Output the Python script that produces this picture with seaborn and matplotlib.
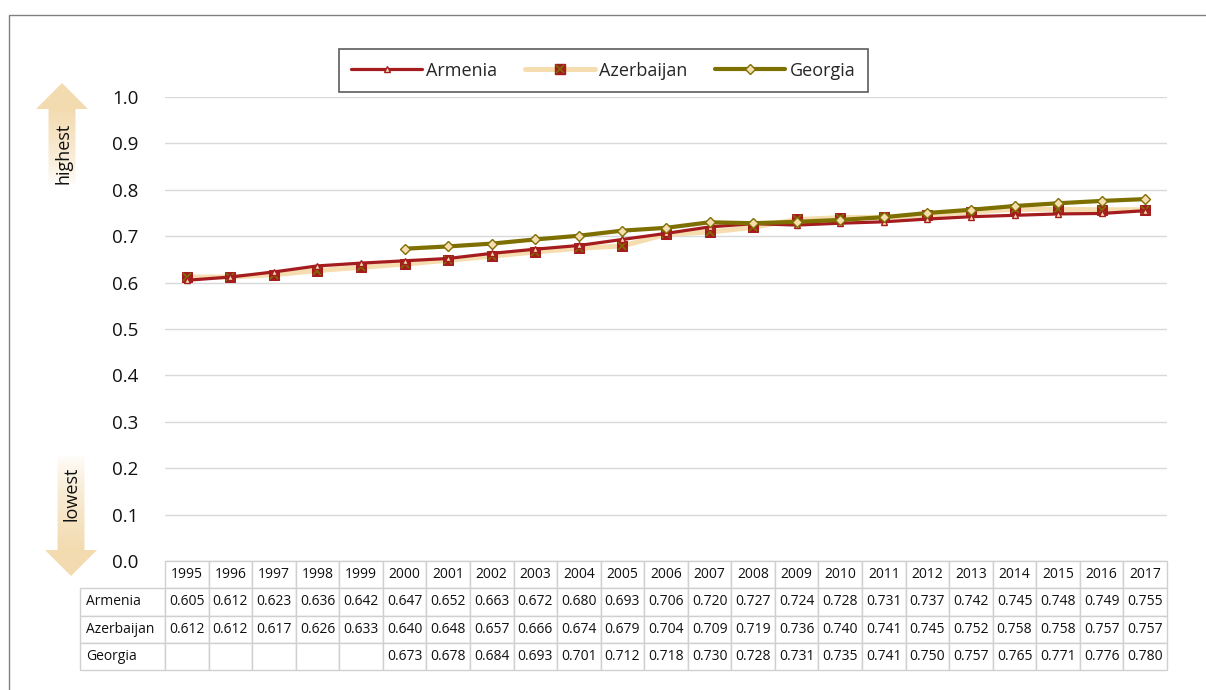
import numpy as np
import pandas as pd
import matplotlib.pyplot as plt
import seaborn as sns
from matplotlib.lines import Line2D
from matplotlib.patches import Polygon, Rectangle
from matplotlib.legend_handler import HandlerTuple

years = list(range(1995, 2018))
armenia = [0.605, 0.612, 0.623, 0.636, 0.642, 0.647, 0.652, 0.663, 0.672, 0.680, 0.693, 0.706,
           0.720, 0.727, 0.724, 0.728, 0.731, 0.737, 0.742, 0.745, 0.748, 0.749, 0.755]
azerbaijan = [0.612, 0.612, 0.617, 0.626, 0.633, 0.640, 0.648, 0.657, 0.666, 0.674, 0.679, 0.704,
              0.709, 0.719, 0.736, 0.740, 0.741, 0.745, 0.752, 0.758, 0.758, 0.757, 0.757]
georgia = [None, None, None, None, None, 0.673, 0.678, 0.684, 0.693, 0.701, 0.712, 0.718,
           0.730, 0.728, 0.731, 0.735, 0.741, 0.750, 0.757, 0.765, 0.771, 0.776, 0.780]
countries = ["Armenia", "Azerbaijan", "Georgia"]
yticks = [0.0, 0.1, 0.2, 0.3, 0.4, 0.5, 0.6, 0.7, 0.8, 0.9, 1.0]

RED = "#A51C1F"
BEIGE = "#F5DDB0"
OLIVE = "#7D6F00"
W, H = 1206, 690

sns.set_style("white")
plt.rcParams["font.family"] = ["Open Sans", "DejaVu Sans"]

df = pd.DataFrame({"pos": np.arange(len(years)), "Armenia": armenia,
                   "Azerbaijan": azerbaijan,
                   "Georgia": [np.nan if v is None else v for v in georgia]})

fig = plt.figure(figsize=(W / 100, H / 100), dpi=100)

# pixel overlay for frame and arrows
ov = fig.add_axes([0, 0, 1, 1], zorder=-5)
ov.set_xlim(0, W)
ov.set_ylim(H, 0)
ov.axis("off")
ov.add_patch(Rectangle((8.5, 14.5), 1210, 700, fill=False, ec="#808080", lw=1))


def arrow(cx, tip, base, shaft_end, head_w, shaft_w):
    poly = Polygon([(cx, tip), (cx - head_w / 2, base), (cx - shaft_w / 2, base),
                    (cx - shaft_w / 2, shaft_end), (cx + shaft_w / 2, shaft_end),
                    (cx + shaft_w / 2, base), (cx + head_w / 2, base)],
                   closed=True, fc="none", ec="none")
    ov.add_patch(poly)
    n = 200
    ys = np.linspace(min(tip, shaft_end), max(tip, shaft_end), n)
    d = np.abs(ys - base) / abs(shaft_end - base)
    a = np.where(np.sign(ys - base) == np.sign(shaft_end - base), np.clip(1 - d, 0, 1) ** 0.7, 1.0)
    img = np.zeros((n, 1, 4))
    img[..., :3] = np.array([0xF3, 0xDB, 0xB0]) / 255
    img[:, 0, 3] = a
    im = ov.imshow(img, extent=(cx - head_w / 2, cx + head_w / 2, ys[-1], ys[0]),
                   aspect="auto", interpolation="bilinear", origin="upper")
    im.set_clip_path(poly)


arrow(62, 83, 109, 185, 52, 27)
arrow(71, 576, 550, 455, 52, 27)
ov.text(63, 153, "highest", rotation=90, ha="center", va="center", fontsize=13, color="#111111")
ov.text(71, 494, "lowest", rotation=90, ha="center", va="center", fontsize=13, color="#111111")

# main axes
ax = fig.add_axes([165 / W, 1 - 561 / H, 1002 / W, 464 / H])
sns.lineplot(data=df, x="pos", y="Azerbaijan", ax=ax, color=BEIGE, lw=3.6,
             marker="s", ms=7.5, mfc=RED, mec=RED, zorder=3)
ax.plot(df["pos"], df["Azerbaijan"], ls="none", marker="x", ms=5.5, mew=1.2,
        color=OLIVE, zorder=3.1)
sns.lineplot(data=df, x="pos", y="Armenia", ax=ax, color=RED, lw=2.3,
             marker="^", ms=5, mfc=BEIGE, mec=RED, mew=1, zorder=4)
sns.lineplot(data=df.dropna(), x="pos", y="Georgia", ax=ax, color=OLIVE, lw=3,
             marker="D", ms=5, mfc=BEIGE, mec=OLIVE, mew=1, zorder=5)

ax.set_xlim(-0.5, len(years) - 0.5)
ax.set_ylim(0, 1.0)
ax.set_yticks(yticks)
ax.set_yticklabels([f"{v:.1f}" for v in yticks], fontsize=13.5, color="#111111")
ax.set_xticks([])
ax.set_xlabel("")
ax.set_ylabel("")
ax.tick_params(axis="y", length=0, pad=19)
ax.grid(axis="y", color="#D9D9D9", lw=1)
for s in ax.spines.values():
    s.set_visible(False)

# data table under the plot
fmt = lambda v: "" if v is None else f"{v:.3f}"
cells = [[""] + [str(y) for y in years]]
cells += [[c] + [fmt(v) for v in vals] for c, vals in zip(countries, [armenia, azerbaijan, georgia])]
lw_lab = 85 / 1087
col_w = [lw_lab] + [(1 - lw_lab) / len(years)] * len(years)
tab = ax.table(cellText=cells, colWidths=col_w, cellLoc="center",
               bbox=[-85 / 1002, -109 / 464, 1087 / 1002, 109 / 464])
tab.auto_set_font_size(False)
tab.set_fontsize(10)
for (r, c), cell in tab.get_celld().items():
    cell.set_edgecolor("#D0D0D0")
    cell.set_linewidth(1)
    cell.get_text().set_color("#111111")
    if c == 0:
        cell._loc = "left"
        cell.get_text().set_ha("left")
        cell.PAD = 0.07
    if r == 0 and c == 0:
        cell.visible_edges = ""

# legend
h_arm = Line2D([], [], color=RED, lw=2.3, marker="^", ms=5, mfc=BEIGE, mec=RED)
h_az = (Line2D([], [], color=BEIGE, lw=3.6, marker="s", ms=7.5, mfc=RED, mec=RED),
        Line2D([], [], ls="none", marker="x", ms=5.5, mew=1.2, color=OLIVE))
h_geo = Line2D([], [], color=OLIVE, lw=3, marker="D", ms=5, mfc=BEIGE, mec=OLIVE)
leg = fig.legend([h_arm, h_az, h_geo], countries, loc="center",
                 bbox_to_anchor=(603.5 / W, 1 - 70.5 / H), ncol=3, fontsize=13,
                 frameon=True, fancybox=False, edgecolor="#333333",
                 handlelength=3.9, handletextpad=0.25, columnspacing=1.5,
                 borderpad=0.7, borderaxespad=0,
                 handler_map={tuple: HandlerTuple(ndivide=1)})
leg.get_frame().set_linewidth(1.2)

fig.savefig("out.png", dpi=100)
